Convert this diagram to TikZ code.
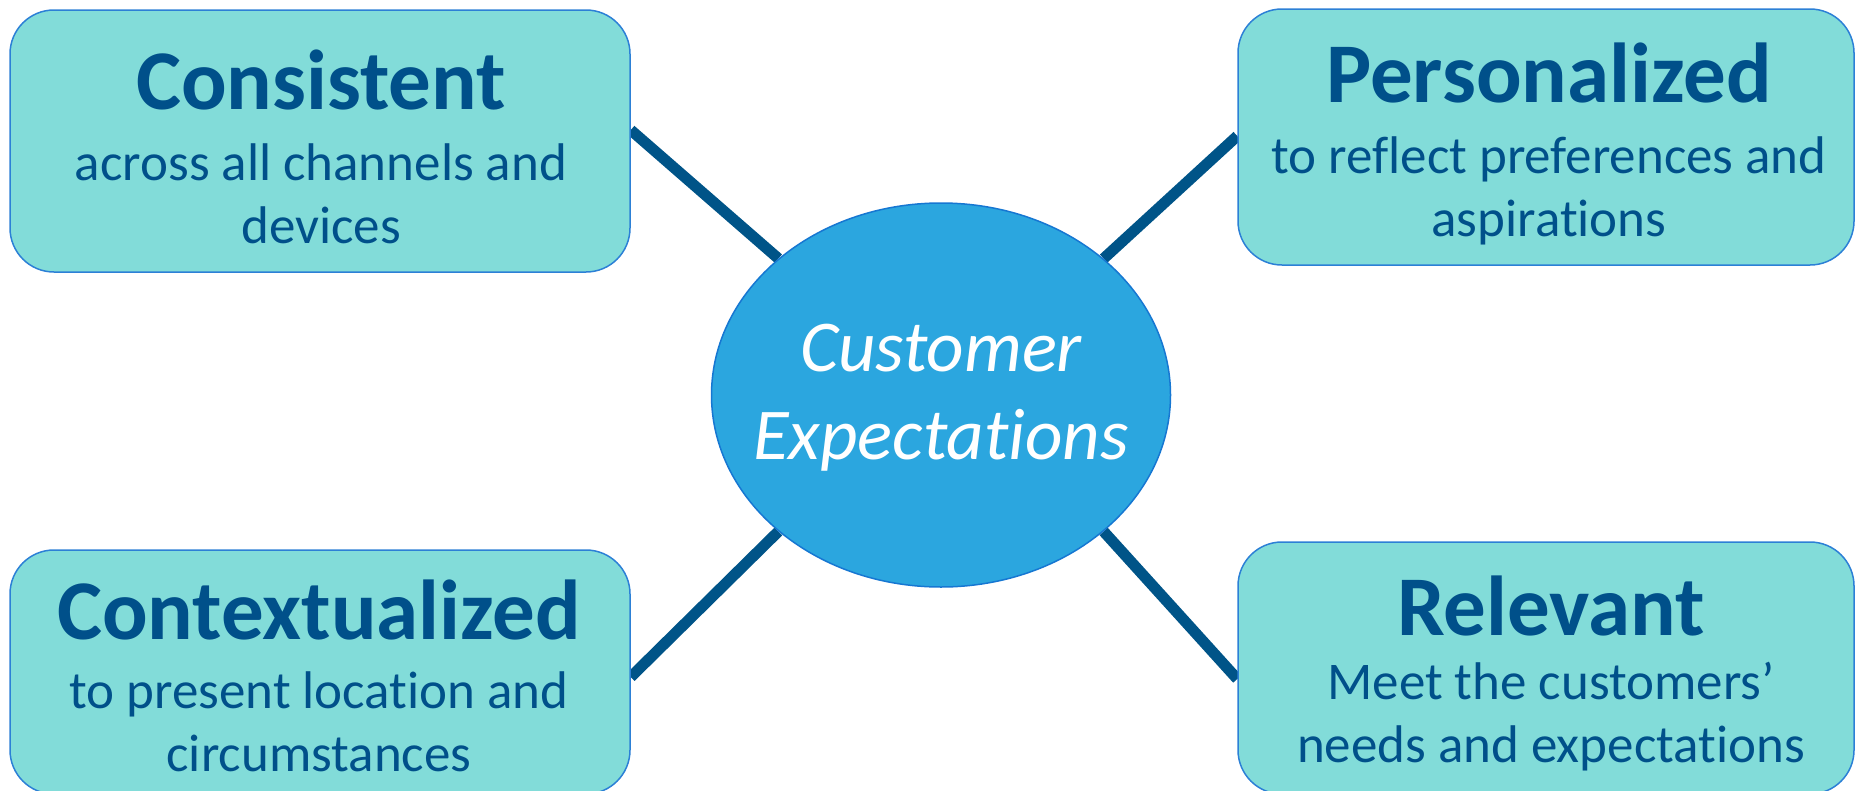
\documentclass[tikz,border=0pt]{standalone}
\usepackage{fontspec}
\setmainfont{Carlito}[RawFeature = {-liga;-clig;-calt;-dlig;-rlig;-ccmp}]
\usepackage{xcolor}
\usetikzlibrary{shapes,shapes.geometric,positioning,calc}
\pgfdeclarelayer{bg}
\pgfsetlayers{bg,main}
\definecolor{cardfill}{HTML}{82DCD9}
\definecolor{cardedge}{HTML}{2C80D6}
\definecolor{hubfill}{HTML}{2BA6DF}
\definecolor{hubedge}{HTML}{1677D2}
\definecolor{ink}{HTML}{00508A}
\definecolor{spokeblue}{HTML}{005488}

\begin{document}
\begin{tikzpicture}[x = 1pt, y = -1pt,
  card/.style = {draw = cardedge, line width = 1.5pt, fill = cardfill, rounded corners = 44pt, inner sep = 0pt},
  hub/.style = {ellipse, draw = hubedge, line width = 1.5pt, fill = hubfill, minimum width = 459pt, minimum height = 384pt, inner sep = 0pt},
  hubtext/.style = {text = white, inner sep = 0pt, align = center, font = \fontsize{73}{88}\selectfont\itshape},
  ttl/.style = {text = ink, inner sep = 0pt, font = \fontsize{85}{100}\selectfont\bfseries},
  sub/.style = {text = ink, inner sep = 0pt, align = center, font = \fontsize{53}{63}\selectfont},
  spoke/.style = {draw = spokeblue, line width = 11pt}]
\useasboundingbox (0,0) rectangle (1857,790);
\node[hub] (hub) at (941,395) {};
\node[hubtext] (hub-t) at (941,398) {Customer\\Expectations};
\node[card, minimum width = 620pt, minimum height = 262pt] (cons) at (320,141) {};
\node[card, minimum width = 616pt, minimum height = 256pt] (pers) at (1546,137) {};
\node[card, minimum width = 620pt, minimum height = 244pt] (ctx) at (320,672) {};
\node[card, minimum width = 616pt, minimum height = 252pt] (rel) at (1546,668) {};
\begin{pgfonlayer}{bg}
\draw[spoke] ([yshift = 11pt]cons.east) -- (hub.140);
\draw[spoke] ([yshift = 1pt]pers.west) -- (hub.40);
\draw[spoke] ([yshift = -5pt]ctx.east) -- (hub.220);
\draw[spoke] ([yshift = -11pt]rel.west) -- (hub.320);
\end{pgfonlayer}
\node[ttl] (cons-t) at (321,80) {Consistent};
\node[ttl] (pers-t) at (1549,73) {Personalized};
\node[ttl] (ctx-t) at (319,610) {Contextualized};
\node[ttl] (rel-t) at (1551,606) {Relevant};
\node[sub] (cons-s) at (321,194) {across all channels and\\devices};
\node[sub] (pers-s) at (1549,191) {to reflect preferences and\\aspirations};
\node[sub] (ctx-s) at (319,722) {to present location and\\circumstances};
\node[sub] (rel-s) at (1551,717) {Meet the customers’\\needs and expectations};
\end{tikzpicture}
\end{document}
